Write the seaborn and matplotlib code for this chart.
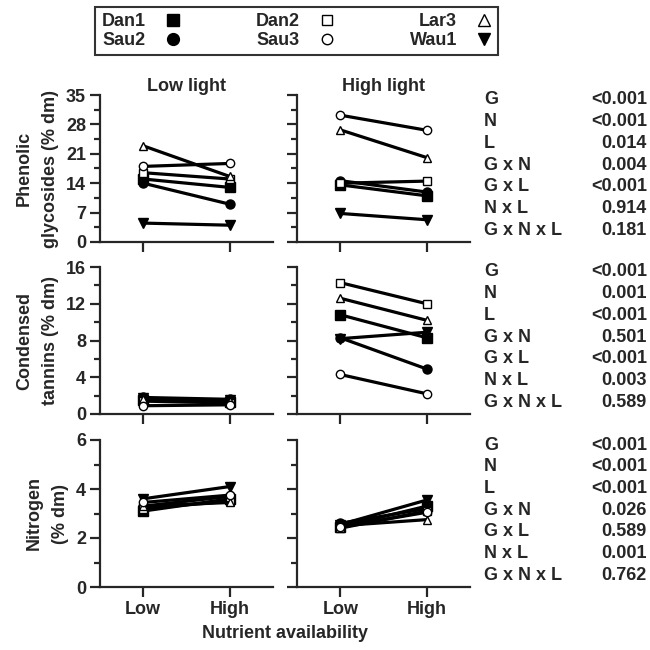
import matplotlib
matplotlib.use("Agg")
import matplotlib.pyplot as plt
import seaborn as sns
import pandas as pd
from matplotlib.lines import Line2D
from matplotlib.ticker import MultipleLocator

sns.set_style("ticks")
plt.rcParams['font.family'] = ['Liberation Sans', 'DejaVu Sans']
plt.rcParams['font.weight'] = 'bold'
plt.rcParams['axes.labelweight'] = 'bold'

# genotypes and nutrient levels
genotypes = ["Dan1", "Dan2", "Lar3", "Sau2", "Sau3", "Wau1"]
nutrient = ["Low", "High"]

# phenolic glycosides (% dm), genotype order as above
pg_lowlight_lo = [15.0, 16.5, 22.9, 14.0, 18.0, 4.5]
pg_lowlight_hi = [13.0, 15.0, 15.6, 9.0, 18.7, 4.0]
pg_highlight_lo = [13.6, 14.0, 26.7, 14.6, 30.2, 6.8]
pg_highlight_hi = [11.0, 14.5, 20.1, 11.9, 26.6, 5.3]

# condensed tannins (% dm)
ct_lowlight_lo = [1.5, 1.4, 1.6, 1.8, 0.9, 1.7]
ct_lowlight_hi = [1.3, 1.2, 1.4, 1.6, 1.0, 1.5]
ct_highlight_lo = [10.8, 14.3, 12.6, 8.3, 4.3, 8.2]
ct_highlight_hi = [8.3, 12.0, 10.2, 4.9, 2.2, 8.9]

# nitrogen (% dm)
n_lowlight_lo = [3.1, 3.2, 3.3, 3.3, 3.45, 3.6]
n_lowlight_hi = [3.6, 3.5, 3.45, 3.7, 3.75, 4.1]
n_highlight_lo = [2.45, 2.4, 2.5, 2.6, 2.45, 2.55]
n_highlight_hi = [3.3, 3.1, 2.75, 3.2, 3.05, 3.55]

# ANOVA p-values
effects = ["G", "N", "L", "G x N", "G x L", "N x L", "G x N x L"]
p_pg = ["<0.001", "<0.001", "0.014", "0.004", "<0.001", "0.914", "0.181"]
p_ct = ["<0.001", "0.001", "<0.001", "0.501", "<0.001", "0.003", "0.589"]
p_n = ["<0.001", "<0.001", "<0.001", "0.026", "0.589", "0.001", "0.762"]

# marker style per genotype: (marker, facecolor, size in plot, size in legend)
styles = {
    "Dan1": ("s", "black", 7.5, 9),
    "Dan2": ("s", "white", 5.5, 7),
    "Lar3": ("^", "white", 6, 8),
    "Sau2": ("o", "black", 6.5, 8.5),
    "Sau3": ("o", "white", 6, 7.5),
    "Wau1": ("v", "black", 7, 8.5),
}
draw_order = ["Dan1", "Sau2", "Wau1", "Dan2", "Lar3", "Sau3"]

FS = 13


def make_df(lo, hi):
    rows = []
    for g, a, b in zip(genotypes, lo, hi):
        rows.append({"genotype": g, "nutrient": "Low", "value": a})
        rows.append({"genotype": g, "nutrient": "High", "value": b})
    df = pd.DataFrame(rows)
    df["pos"] = df["nutrient"].map({n: i for i, n in enumerate(nutrient)})
    return df


panels = [
    [make_df(pg_lowlight_lo, pg_lowlight_hi), make_df(pg_highlight_lo, pg_highlight_hi)],
    [make_df(ct_lowlight_lo, ct_lowlight_hi), make_df(ct_highlight_lo, ct_highlight_hi)],
    [make_df(n_lowlight_lo, n_lowlight_hi), make_df(n_highlight_lo, n_highlight_hi)],
]
ylims = [35, 16, 6]
ymajor = [7, 4, 2]
yminor = [3.5, 2, 1]
ylabels = ["Phenolic\nglycosides (% dm)", "Condensed\ntannins (% dm)", "Nitrogen\n(% dm)"]
pvals = [p_pg, p_ct, p_n]

W = H = 650.0
col_x = [100, 297]
col_w = 173
row_top = [95, 267, 440]
row_h = 147

fig = plt.figure(figsize=(6.5, 6.5), dpi=100)

for r in range(3):
    for c in range(2):
        ax = fig.add_axes([col_x[c] / W, 1 - (row_top[r] + row_h) / H, col_w / W, row_h / H])
        df = panels[r][c]
        for g in draw_order:
            m, fc, ms, _ = styles[g]
            sub = df[df["genotype"] == g]
            sns.lineplot(data=sub, x="pos", y="value", ax=ax, color="black", lw=2.3,
                         marker=m, markersize=ms, markerfacecolor=fc,
                         markeredgecolor="black", markeredgewidth=1.0, legend=False)
        ax.set_xlim(-0.5, 1.5)
        ax.set_ylim(0, ylims[r])
        ax.set_xticks([0, 1])
        ax.yaxis.set_major_locator(MultipleLocator(ymajor[r]))
        ax.yaxis.set_minor_locator(MultipleLocator(yminor[r]))
        sns.despine(ax=ax)
        for sp in ["left", "bottom"]:
            ax.spines[sp].set_linewidth(1.6)
        ax.tick_params(axis="both", which="major", direction="out", length=7, width=1.6,
                       labelsize=FS, pad=3)
        ax.tick_params(axis="y", which="minor", direction="out", length=4.5, width=1.6)
        ax.set_xlabel("")
        ax.set_ylabel("")
        if r == 2:
            ax.set_xticklabels(nutrient)
        else:
            ax.set_xticklabels([])
        if c == 1:
            ax.set_yticklabels([])
        else:
            ax.set_ylabel(ylabels[r], fontsize=FS, fontweight="bold", linespacing=1.7, labelpad=5)
        if r == 0:
            ax.set_title(["Low light", "High light"][c], fontsize=FS, fontweight="bold", pad=1.5)

# ANOVA table on the right
for r in range(3):
    y0 = row_top[r] + 5
    for i, (eff, p) in enumerate(zip(effects, pvals[r])):
        yy = 1 - (y0 + i * 21.7) / H
        fig.text(484 / W, yy, eff, fontsize=FS, fontweight="bold", ha="left", va="center")
        fig.text(647 / W, yy, p, fontsize=FS, fontweight="bold", ha="right", va="center")

fig.text(285 / W, 1 - 634 / H, "Nutrient availability", fontsize=FS, fontweight="bold",
         ha="center", va="center")

# legend box at top
order = ["Dan1", "Sau2", "Dan2", "Sau3", "Lar3", "Wau1"]
handles = []
for g in order:
    m, fc, _, ms = styles[g]
    handles.append(Line2D([], [], linestyle="", marker=m, markersize=ms, markerfacecolor=fc,
                          markeredgecolor="black", markeredgewidth=1.0))
leg = fig.legend(handles, order, ncol=3, loc="upper center",
                 bbox_to_anchor=(296.5 / W, 1 - 7 / H),
                 markerfirst=False, frameon=True, fancybox=False, edgecolor="black",
                 prop={"weight": "bold", "size": FS}, handlelength=0.8, handletextpad=1.1,
                 borderpad=0.35, labelspacing=0.1, columnspacing=4.2, borderaxespad=0)
leg.get_frame().set_linewidth(1.5)

fig.savefig("out.png", dpi=100)
